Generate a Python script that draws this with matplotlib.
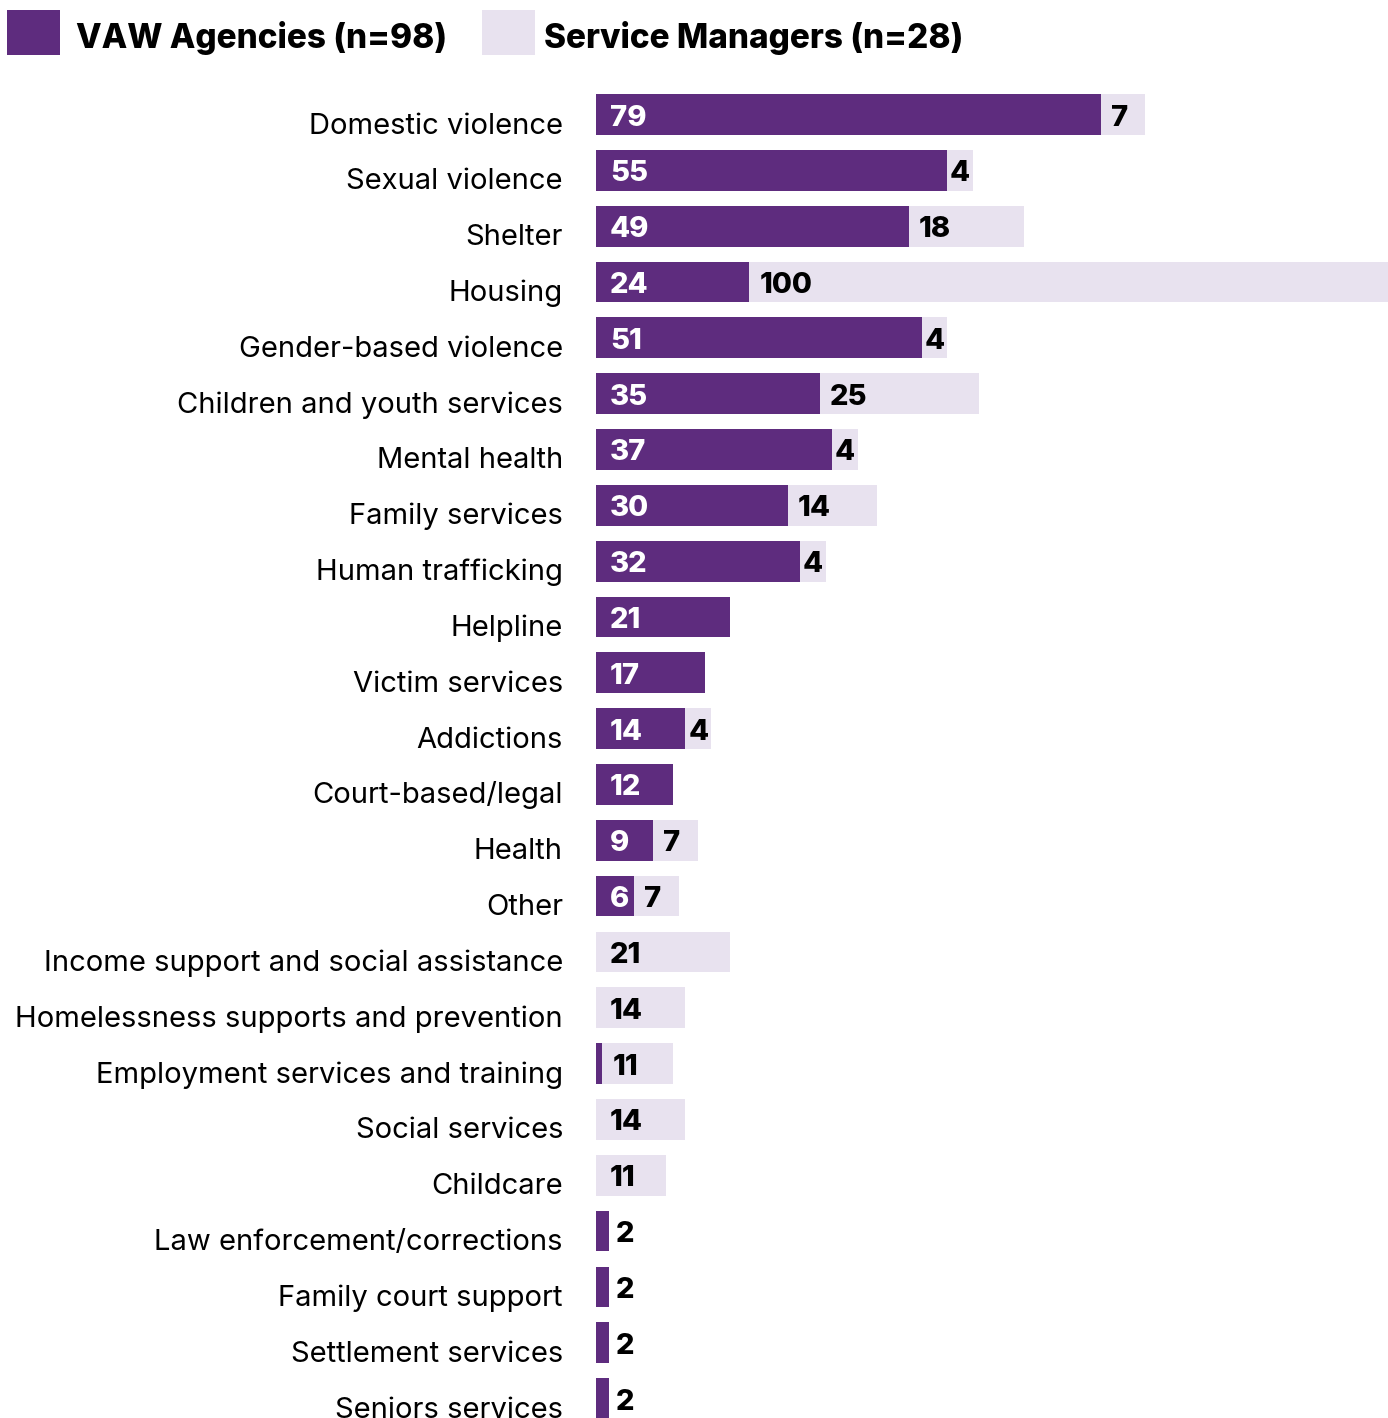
import matplotlib.pyplot as plt
from matplotlib import transforms
from matplotlib.patches import Rectangle

categories = ['Domestic violence', 'Sexual violence', 'Shelter', 'Housing',
              'Gender-based violence', 'Children and youth services',
              'Mental health', 'Family services', 'Human trafficking',
              'Helpline', 'Victim services', 'Addictions', 'Court-based/legal',
              'Health', 'Other', 'Income support and social assistance',
              'Homelessness supports and prevention',
              'Employment services and training', 'Social services',
              'Childcare', 'Law enforcement/corrections',
              'Family court support', 'Settlement services',
              'Seniors services']
vaw = [79, 55, 49, 24, 51, 35, 37, 30, 32, 21, 17, 14, 12, 9, 6,
       0, 0, 1, 0, 0, 2, 2, 2, 2]
sm = [7, 4, 18, 100, 4, 25, 4, 14, 4, 0, 0, 4, 0, 7, 7,
      21, 14, 11, 14, 11, 0, 0, 0, 0]
legend_labels = ['VAW Agencies (n=98)', 'Service Managers (n=28)']

PURPLE = '#5E2C7E'
LILAC = '#E8E2EF'
FONT = 'Inter'

W, H = 1388, 1418
fig = plt.figure(figsize=(W / 100, H / 100), dpi=100)

# axes placed in pixel terms: bars start at x=596, rows ~55.8px apart
x0 = 596
top_px, row_px = 114.5, 55.83
n = len(categories)
ax_top = top_px - row_px / 2
ax_bot = ax_top + row_px * n
ax = fig.add_axes([x0 / W, 1 - ax_bot / H, (W - x0) / W, (ax_bot - ax_top) / H])

y = list(range(n))
ax.barh(y, vaw, height=0.73, color=PURPLE, linewidth=0)
ax.barh(y, sm, left=vaw, height=0.73, color=LILAC, linewidth=0)
ax.set_xlim(0, 124)
ax.set_ylim(n - 0.5, -0.5)
ax.axis('off')

px_per_unit = (W - x0) / 124.0

# category names, right aligned left of the bars
lab_tr = transforms.offset_copy(ax.get_yaxis_transform(), fig=fig,
                                x=-33, y=-19, units='dots')
for i, cat in enumerate(categories):
    ax.text(0, i, cat, transform=lab_tr, ha='right', va='baseline',
            fontsize=21, family=FONT, color='black')

num_tr = transforms.offset_copy(ax.transData, fig=fig, x=0, y=-11,
                                units='dots')
num_kw = dict(transform=num_tr, va='baseline', fontsize=21,
              fontweight='heavy', family=FONT)
for i in range(n):
    v, s = vaw[i], sm[i]
    if v >= 5:
        ax.text(14 / px_per_unit, i, str(v), ha='left', color='white',
                **num_kw)
    elif v >= 2 and s == 0:
        ax.text(v + 7 / px_per_unit, i, str(v), ha='left', color='black',
                **num_kw)
    if s > 0:
        if s <= 4:
            ax.text(v + s / 2, i, str(s), ha='center', color='black',
                    **num_kw)
        else:
            pad = 14 if v == 0 else 10
            ax.text(v + pad / px_per_unit, i, str(s), ha='left',
                    color='black', **num_kw)

# legend drawn by hand across the top
for (sx, tx), colr, text in zip([(7, 76), (482, 544)], [PURPLE, LILAC],
                                legend_labels):
    fig.add_artist(Rectangle((sx / W, 1 - 55 / H), 53 / W, 45 / H,
                             transform=fig.transFigure, color=colr, lw=0))
    fig.text(tx / W, 1 - 48 / H, text, ha='left', va='baseline',
             fontsize=24, fontweight='heavy', family=FONT, color='black')

fig.savefig('out.png', dpi=100)
